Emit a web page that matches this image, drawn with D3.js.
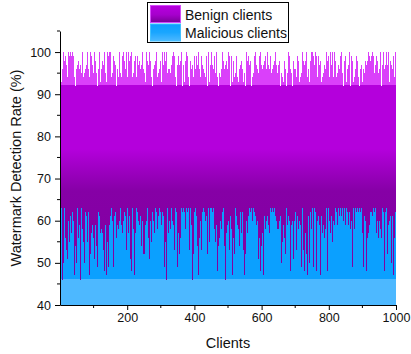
<!DOCTYPE html>
<html><head><meta charset="utf-8">
<script src="https://cdn.jsdelivr.net/npm/d3@7"></script>
<style>html,body{margin:0;padding:0;background:#fff;}svg{display:block;font-family:"Liberation Sans",Arial,sans-serif;}</style>
</head><body><svg id="c" width="411" height="354"></svg>
<script>
const seriesNames = ["Benign clients", "Malicious clients"];
const xTicks = [200, 400, 600, 800, 1000];
const yTicks = [40, 50, 60, 70, 80, 90, 100];
const benign = [
97,100,95,99,93,98,100,96,94,99,100,97,92,98,95,100,99,96,93,97,100,98,94,99,96,
100,95,97,99,92,98,100,94,96,99,97,93,100,98,95,99,96,100,94,97,98,92,99,100,96,
93,99,97,100,95,98,94,100,96,92,99,97,100,95,98,93,100,99,96,94,97,100,95,98,99,
96,100,93,97,99,95,100,98,92,96,99,100,94,97,95,100,98,93,99,96,100,97,94,98,95,
99,94,100,97,96,98,93,100,95,99,97,92,100,98,96,94,99,100,95,97,93,98,100,96,99,
95,98,100,92,97,99,96,100,94,98,95,99,100,93,97,96,100,98,94,99,92,97,100,95,98,
100,96,99,94,98,100,95,97,93,99,100,96,98,94,100,97,95,99,92,98,100,96,97,99,94,
98,93,100,96,99,95,97,100,94,98,92,99,96,100,97,95,98,100,93,96,99,97,100,94,98,
94,99,97,100,92,96,98,100,95,99,93,97,100,98,96,94,100,99,95,97,92,98,100,96,99,
97,100,94,98,96,99,100,93,97,95,100,98,92,99,96,100,94,97,99,95,100,98,93,96,100,
99,95,98,100,93,97,96,100,99,94,98,92,100,97,95,99,100,96,93,98,97,100,94,99,95,
92,98,100,96,99,94,97,100,95,98,93,99,100,96,97,94,100,98,95,99,92,96,100,97,98,
100,97,93,99,96,100,98,94,97,99,95,100,92,98,96,99,100,93,97,95,100,98,96,94,99,
96,99,100,95,98,92,97,100,94,99,96,98,100,93,95,99,97,100,94,98,96,92,100,99,97,
98,94,99,100,96,97,93,100,98,95,99,100,94,96,92,98,100,97,99,95,93,100,96,98,100,
95,100,97,93,99,98,100,94,96,99,92,97,100,98,95,99,96,100,93,97,98,100,94,99,96,
99,97,100,96,94,98,99,92,100,97,95,98,100,93,99,96,97,100,94,98,95,99,100,92,97,
93,98,96,100,99,95,97,100,94,98,96,99,100,92,97,95,100,98,99,93,96,100,97,94,98,
100,95,99,97,92,100,96,98,94,99,100,97,95,98,93,100,99,96,94,97,100,92,98,99,95,
97,99,94,100,98,96,93,99,100,95,97,98,92,100,96,94,99,97,100,95,98,93,100,96,99,
94,100,98,95,99,97,100,92,96,98,99,100,95,93,97,100,98,96,99,94,100,97,95,98,92,
99,96,100,94,97,99,93,98,100,96,95,99,97,100,92,98,94,100,96,99,97,93,100,98,95,
100,98,92,97,99,100,95,96,98,94,100,99,93,97,96,100,98,95,99,92,97,100,94,96,99,
95,97,100,99,93,96,100,98,94,97,99,100,96,92,98,95,100,97,99,94,96,100,93,98,97,
98,100,96,93,99,97,94,100,98,95,92,99,100,97,96,98,93,100,99,95,97,94,100,96,98,
92,99,97,100,95,98,100,96,93,99,97,94,100,98,95,99,100,92,96,97,99,100,95,93,98,
97,94,100,98,96,99,92,97,100,95,98,99,94,100,96,93,97,100,98,95,99,96,100,94,92,
100,99,95,96,98,100,97,93,99,94,100,96,98,95,99,100,92,97,94,98,100,99,96,97,93,
96,98,100,94,97,92,99,100,95,98,96,100,93,99,97,94,100,98,95,96,99,100,92,97,98,
99,93,97,100,96,98,95,99,100,92,97,94,98,100,96,99,95,93,100,97,98,94,99,100,96,
94,100,96,98,99,95,100,97,93,98,100,96,92,99,97,100,94,98,96,99,93,100,97,95,98,
98,96,99,93,100,97,94,98,100,95,99,92,97,100,98,96,99,94,100,97,95,98,93,100,99,
100,97,94,99,96,100,98,92,97,99,95,100,98,94,96,99,100,97,93,98,96,100,94,99,97,
95,99,100,97,92,98,96,100,94,99,97,93,100,96,98,95,99,100,92,97,94,98,100,96,99,
97,100,93,98,99,96,100,95,97,94,99,100,96,98,92,97,100,99,94,96,98,100,95,93,99,
99,94,98,100,96,93,97,99,100,95,98,96,100,94,99,97,92,100,98,96,99,95,97,100,94,
93,98,100,96,99,97,95,100,92,98,99,94,97,100,96,98,93,99,100,95,97,99,96,100,98,
100,96,99,94,97,100,98,93,99,96,100,95,98,97,92,100,99,96,94,98,100,97,95,99,93,
96,99,97,100,94,98,92,99,100,97,95,98,100,93,99,96,100,94,97,98,99,100,96,92,97,
98,95,100,97,99,93,96,100,98,94,99,97,100,95,96,98,92,99,100,97,94,98,96,100,95];
const malicious = [
55,61,48,59,63,52,57,46,60,62,50,58,54,63,49,61,56,47,60,53,62,58,51,63,57,
60,49,62,55,58,46,61,53,63,57,50,59,62,48,56,60,52,63,47,58,61,54,59,62,50,
47,58,63,52,60,56,49,62,59,54,61,46,57,63,51,60,58,48,62,55,59,63,50,57,61,
62,53,57,61,48,63,55,59,50,62,56,60,47,58,63,52,61,54,57,49,62,59,46,60,56,
58,63,51,56,62,59,47,61,54,60,63,49,58,55,62,46,59,61,53,63,57,50,62,58,52,
50,57,62,60,53,58,63,48,61,56,59,62,52,47,60,63,55,58,61,49,56,62,59,54,63,
61,46,59,63,57,50,60,62,55,49,63,58,61,53,57,62,48,60,56,63,51,59,62,47,58,
54,62,60,49,61,63,56,52,59,62,47,57,63,60,50,55,62,59,46,61,58,63,53,60,49,
63,59,47,57,62,54,61,58,63,51,60,62,48,59,56,63,52,61,58,55,62,47,60,63,57,
49,60,63,56,51,62,58,47,60,63,55,59,62,50,61,57,63,54,48,62,60,58,63,52,59,
57,52,61,63,59,48,62,60,54,58,63,46,61,56,59,62,51,63,57,60,49,62,55,61,63,
62,58,50,60,63,55,57,61,49,63,59,53,62,60,47,58,63,56,61,52,59,63,48,57,62,
53,63,59,47,58,62,60,52,61,57,62,49,63,55,60,58,46,62,59,63,54,61,57,50,60,
60,48,62,58,54,61,63,57,50,60,56,63,59,47,62,53,61,60,63,51,58,62,56,63,49,
46,61,57,63,60,52,59,62,56,48,61,63,54,58,62,60,50,63,55,59,62,47,61,58,63,
59,63,54,51,62,60,48,63,58,61,53,57,62,63,49,61,59,56,62,46,60,63,52,58,61,
62,50,60,63,57,49,61,59,63,54,62,58,47,60,63,56,51,62,60,58,63,53,59,48,62,
51,59,63,56,61,62,53,48,60,63,57,61,59,52,62,47,63,58,60,55,49,62,63,57,60,
63,56,49,62,59,55,63,61,47,58,62,60,55,63,51,59,62,57,48,63,60,54,61,62,56,
57,62,60,48,63,58,52,60,62,56,50,63,59,61,54,62,58,46,63,60,57,51,62,59,63,
48,60,62,57,53,63,59,61,50,62,58,63,55,47,60,62,56,63,59,52,61,57,63,49,60,
61,55,63,59,62,47,58,63,60,54,61,50,62,58,63,57,49,60,62,56,63,53,59,61,47,
56,63,52,61,58,60,63,49,57,62,59,61,48,63,55,60,62,54,58,63,50,61,60,57,62,
63,49,60,62,55,58,61,63,52,59,47,62,60,57,63,51,59,62,56,61,63,48,58,62,54,
52,61,57,63,60,47,62,56,61,63,54,58,62,49,60,63,57,61,53,62,59,63,50,57,60,
60,63,55,50,62,59,57,63,48,61,62,56,59,63,52,58,61,47,63,60,55,62,58,63,51,
58,47,62,60,63,53,61,58,62,50,63,57,55,61,62,59,48,63,56,60,62,52,61,59,63,
49,62,59,63,56,61,50,62,60,57,63,48,61,59,54,63,60,58,62,51,57,63,60,46,61,
62,57,63,53,59,62,61,47,63,58,56,62,60,51,63,59,61,55,49,62,60,63,57,62,53,
55,60,48,62,63,57,59,61,52,63,60,47,58,62,61,56,63,50,60,59,62,54,63,58,48,
61,63,58,56,49,62,60,63,57,54,62,61,59,48,63,57,60,62,55,61,63,50,59,62,57,
47,59,62,61,63,51,57,60,63,59,49,62,56,63,60,58,52,61,63,57,60,48,62,59,63,
63,54,60,58,62,57,63,49,61,62,58,55,63,60,47,62,59,61,56,63,53,60,62,57,50,
59,62,51,63,60,48,61,57,62,63,55,59,61,50,62,63,58,47,60,62,57,63,54,61,59,
50,61,63,57,54,62,60,63,59,48,61,62,56,63,58,52,61,60,63,57,49,62,59,63,55,
62,58,56,61,63,59,47,62,60,55,63,57,61,62,51,59,63,58,54,62,60,46,63,57,61,
57,63,60,49,62,58,61,63,53,60,59,62,48,61,63,56,60,62,57,50,63,59,61,58,62,
53,60,62,63,57,61,52,59,63,58,47,62,60,63,55,61,57,62,49,60,63,58,56,62,60,
60,49,63,58,61,62,56,60,51,63,59,57,62,60,63,48,61,58,62,54,60,63,57,59,52,
63,57,59,62,48,60,63,55,61,62,58,50,63,59,61,57,62,47,60,63,56,61,58,62,54];

const svg = d3.select("#c");
const x = d3.scaleLinear().domain([0, 1000]).range([60, 396]);
const y = d3.scaleLinear().domain([40, 105]).range([305, 31]);
const base = 40;

const defs = svg.append("defs");
function grad(id, stops) {
  const g = defs.append("linearGradient").attr("id", id)
    .attr("gradientUnits", "userSpaceOnUse")
    .attr("x1", 0).attr("x2", 0).attr("y1", y(105)).attr("y2", y(40));
  stops.forEach(s => g.append("stop").attr("offset", (105 - s[0]) / 65).attr("stop-color", s[1]));
}
grad("gB", [[105, "#da40fa"], [92.2, "#da40fa"], [92.2, "#b400dc"], [77, "#b400dc"], [67, "#8600a6"], [40, "#8000a0"]]);
grad("gM", [[105, "#0ba0ff"], [46.2, "#0ba0ff"], [46.2, "#4db8ff"], [40, "#4db8ff"]]);

function bars(data, fill) {
  svg.append("g").attr("shape-rendering", "crispEdges")
    .selectAll("rect").data(data).join("rect")
    .attr("x", (d, i) => x(i))
    .attr("width", (d, i) => x(i + 1) - x(i))
    .attr("y", d => y(d))
    .attr("height", d => y(base) - y(d))
    .attr("fill", fill);
}
bars(benign, "url(#gB)");
bars(malicious, "url(#gM)");

// axes
const xAxis = d3.axisBottom(x).tickValues(xTicks).tickFormat(d3.format("d")).tickSize(5).tickSizeOuter(0).tickPadding(3);
const gx = svg.append("g").attr("transform", `translate(0,${y(40)})`).call(xAxis);
gx.append("g").selectAll("line").data([100, 300, 500, 700, 900]).join("line")
  .attr("x1", d => x(d)).attr("x2", d => x(d)).attr("y1", 0).attr("y2", 3).attr("stroke", "#000");
const yAxis = d3.axisLeft(y).tickValues(yTicks).tickFormat(d3.format("d")).tickSize(5).tickSizeOuter(0).tickPadding(4);
const gy = svg.append("g").attr("transform", `translate(${x(0)},0)`).call(yAxis);
gy.append("g").selectAll("line").data([45, 55, 65, 75, 85, 95, 105]).join("line")
  .attr("x1", 0).attr("x2", -3).attr("y1", d => y(d)).attr("y2", d => y(d)).attr("stroke", "#000");
[gx, gy].forEach(g => {
  g.selectAll("text").attr("font-size", "12.5px").attr("fill", "#111").attr("font-family", "Liberation Sans, Arial, sans-serif");
  g.select(".domain").attr("stroke", "#000");
  g.selectAll(".tick line").attr("stroke", "#000");
});

svg.append("text").attr("x", 228).attr("y", 348).attr("text-anchor", "middle")
  .attr("font-size", "14.5px").attr("fill", "#111").text("Clients");
svg.append("text").attr("transform", `translate(21,${(y(40) + y(105)) / 2 + 0}) rotate(-90)`)
  .attr("text-anchor", "middle").attr("font-size", "14.5px").attr("fill", "#111")
  .text("Watermark Detection Rate (%)");

// legend
const lg = defs.append("linearGradient").attr("id", "lgB").attr("x1", 0).attr("x2", 0).attr("y1", 0).attr("y2", 1);
lg.append("stop").attr("offset", 0).attr("stop-color", "#b800e0");
lg.append("stop").attr("offset", 0.55).attr("stop-color", "#a600cc");
lg.append("stop").attr("offset", 1).attr("stop-color", "#7a0098");
const lm = defs.append("linearGradient").attr("id", "lgM").attr("x1", 0).attr("x2", 0).attr("y1", 0).attr("y2", 1);
lm.append("stop").attr("offset", 0).attr("stop-color", "#0ba0ff");
lm.append("stop").attr("offset", 0.5).attr("stop-color", "#1aa6ff");
lm.append("stop").attr("offset", 1).attr("stop-color", "#4db8ff");

const leg = svg.append("g");
leg.append("rect").attr("x", 147.5).attr("y", 2.5).attr("width", 141).attr("height", 40)
  .attr("fill", "#fff").attr("stroke", "#000").attr("stroke-width", 1);
const legFills = [["url(#lgB)", "#d448f8"], ["url(#lgM)", "#40c0ff"]];
seriesNames.forEach((n, i) => {
  leg.append("rect").attr("x", 150.5).attr("y", 5.5 + i * 18.5).attr("width", 30).attr("height", 17)
    .attr("fill", legFills[i][0]).attr("stroke", legFills[i][1]).attr("stroke-width", 1);
  leg.append("text").attr("x", 185).attr("y", 20 + i * 18).attr("font-size", "14px").attr("fill", "#111").text(n);
});
</script></body></html>
